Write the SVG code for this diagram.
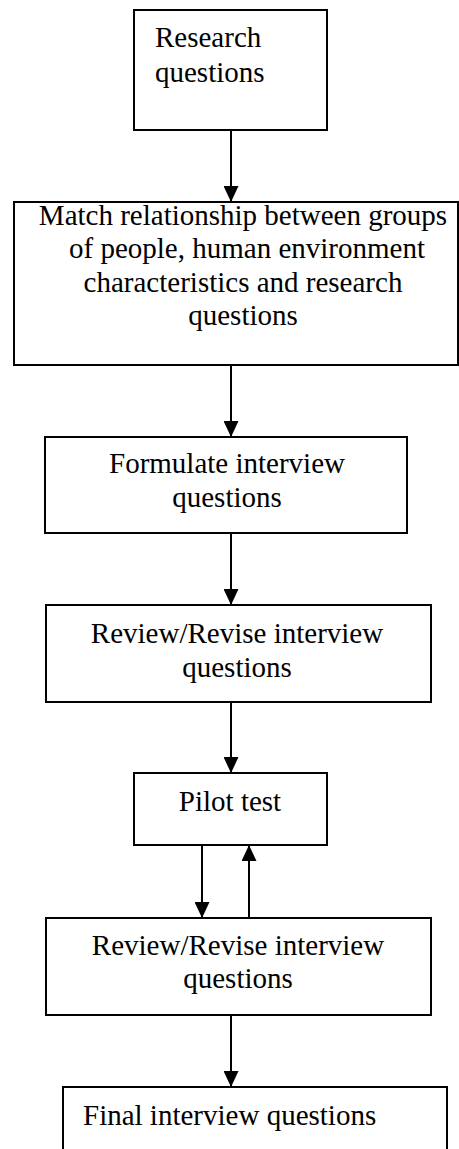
<svg xmlns="http://www.w3.org/2000/svg" width="459" height="1149" viewBox="0 0 459 1149">
  <style>
    .box { fill: #fff; stroke: #000; stroke-width: 2; }
    .lbl { font-family: "Liberation Serif", "Times New Roman", serif; font-size: 29px; fill: #000; }
    .mid { text-anchor: middle; }
    .edge { stroke: #000; stroke-width: 2; fill: none; marker-end: url(#arrow); }
  </style>
  <defs>
    <marker id="arrow" markerUnits="userSpaceOnUse" markerWidth="16" markerHeight="15" refX="16" refY="7.5" orient="auto">
      <path d="M0,0 L16,7.5 L0,15 z" fill="#000"/>
    </marker>
  </defs>

  <rect width="459" height="1149" fill="#fff"/>

  <g id="research-questions">
    <rect class="box" x="134" y="10" width="193" height="120"/>
    <text class="lbl" x="155" y="47">Research</text>
    <text class="lbl" x="155" y="82">questions</text>
  </g>

  <g id="match-relationship">
    <rect class="box" x="14" y="202" width="444" height="163"/>
    <text class="lbl mid" x="243" y="225">Match relationship between groups</text>
    <text class="lbl mid" x="247" y="258">of people, human environment</text>
    <text class="lbl mid" x="243" y="292">characteristics and research</text>
    <text class="lbl mid" x="243" y="325">questions</text>
  </g>

  <g id="formulate">
    <rect class="box" x="45" y="437" width="362" height="96"/>
    <text class="lbl mid" x="227" y="473">Formulate interview</text>
    <text class="lbl mid" x="227" y="507">questions</text>
  </g>

  <g id="review-1">
    <rect class="box" x="46" y="605" width="385" height="97"/>
    <text class="lbl mid" x="237" y="643">Review/Revise interview</text>
    <text class="lbl mid" x="237" y="677">questions</text>
  </g>

  <g id="pilot-test">
    <rect class="box" x="134" y="773" width="193" height="72"/>
    <text class="lbl mid" x="230" y="811">Pilot test</text>
  </g>

  <g id="review-2">
    <rect class="box" x="46" y="918" width="385" height="97"/>
    <text class="lbl mid" x="238" y="955">Review/Revise interview</text>
    <text class="lbl mid" x="238" y="988">questions</text>
  </g>

  <g id="final-questions">
    <rect class="box" x="63" y="1087" width="384" height="90"/>
    <text class="lbl" x="83" y="1125">Final interview questions</text>
  </g>

  <g id="connectors">
    <line class="edge" x1="231" y1="130" x2="231" y2="202"/>
    <line class="edge" x1="231" y1="365" x2="231" y2="437"/>
    <line class="edge" x1="231" y1="533" x2="231" y2="605"/>
    <line class="edge" x1="231" y1="702" x2="231" y2="773"/>
    <line class="edge" x1="202" y1="845" x2="202" y2="918"/>
    <line class="edge" x1="249" y1="918" x2="249" y2="845"/>
    <line class="edge" x1="231" y1="1015" x2="231" y2="1087"/>
  </g>
</svg>
